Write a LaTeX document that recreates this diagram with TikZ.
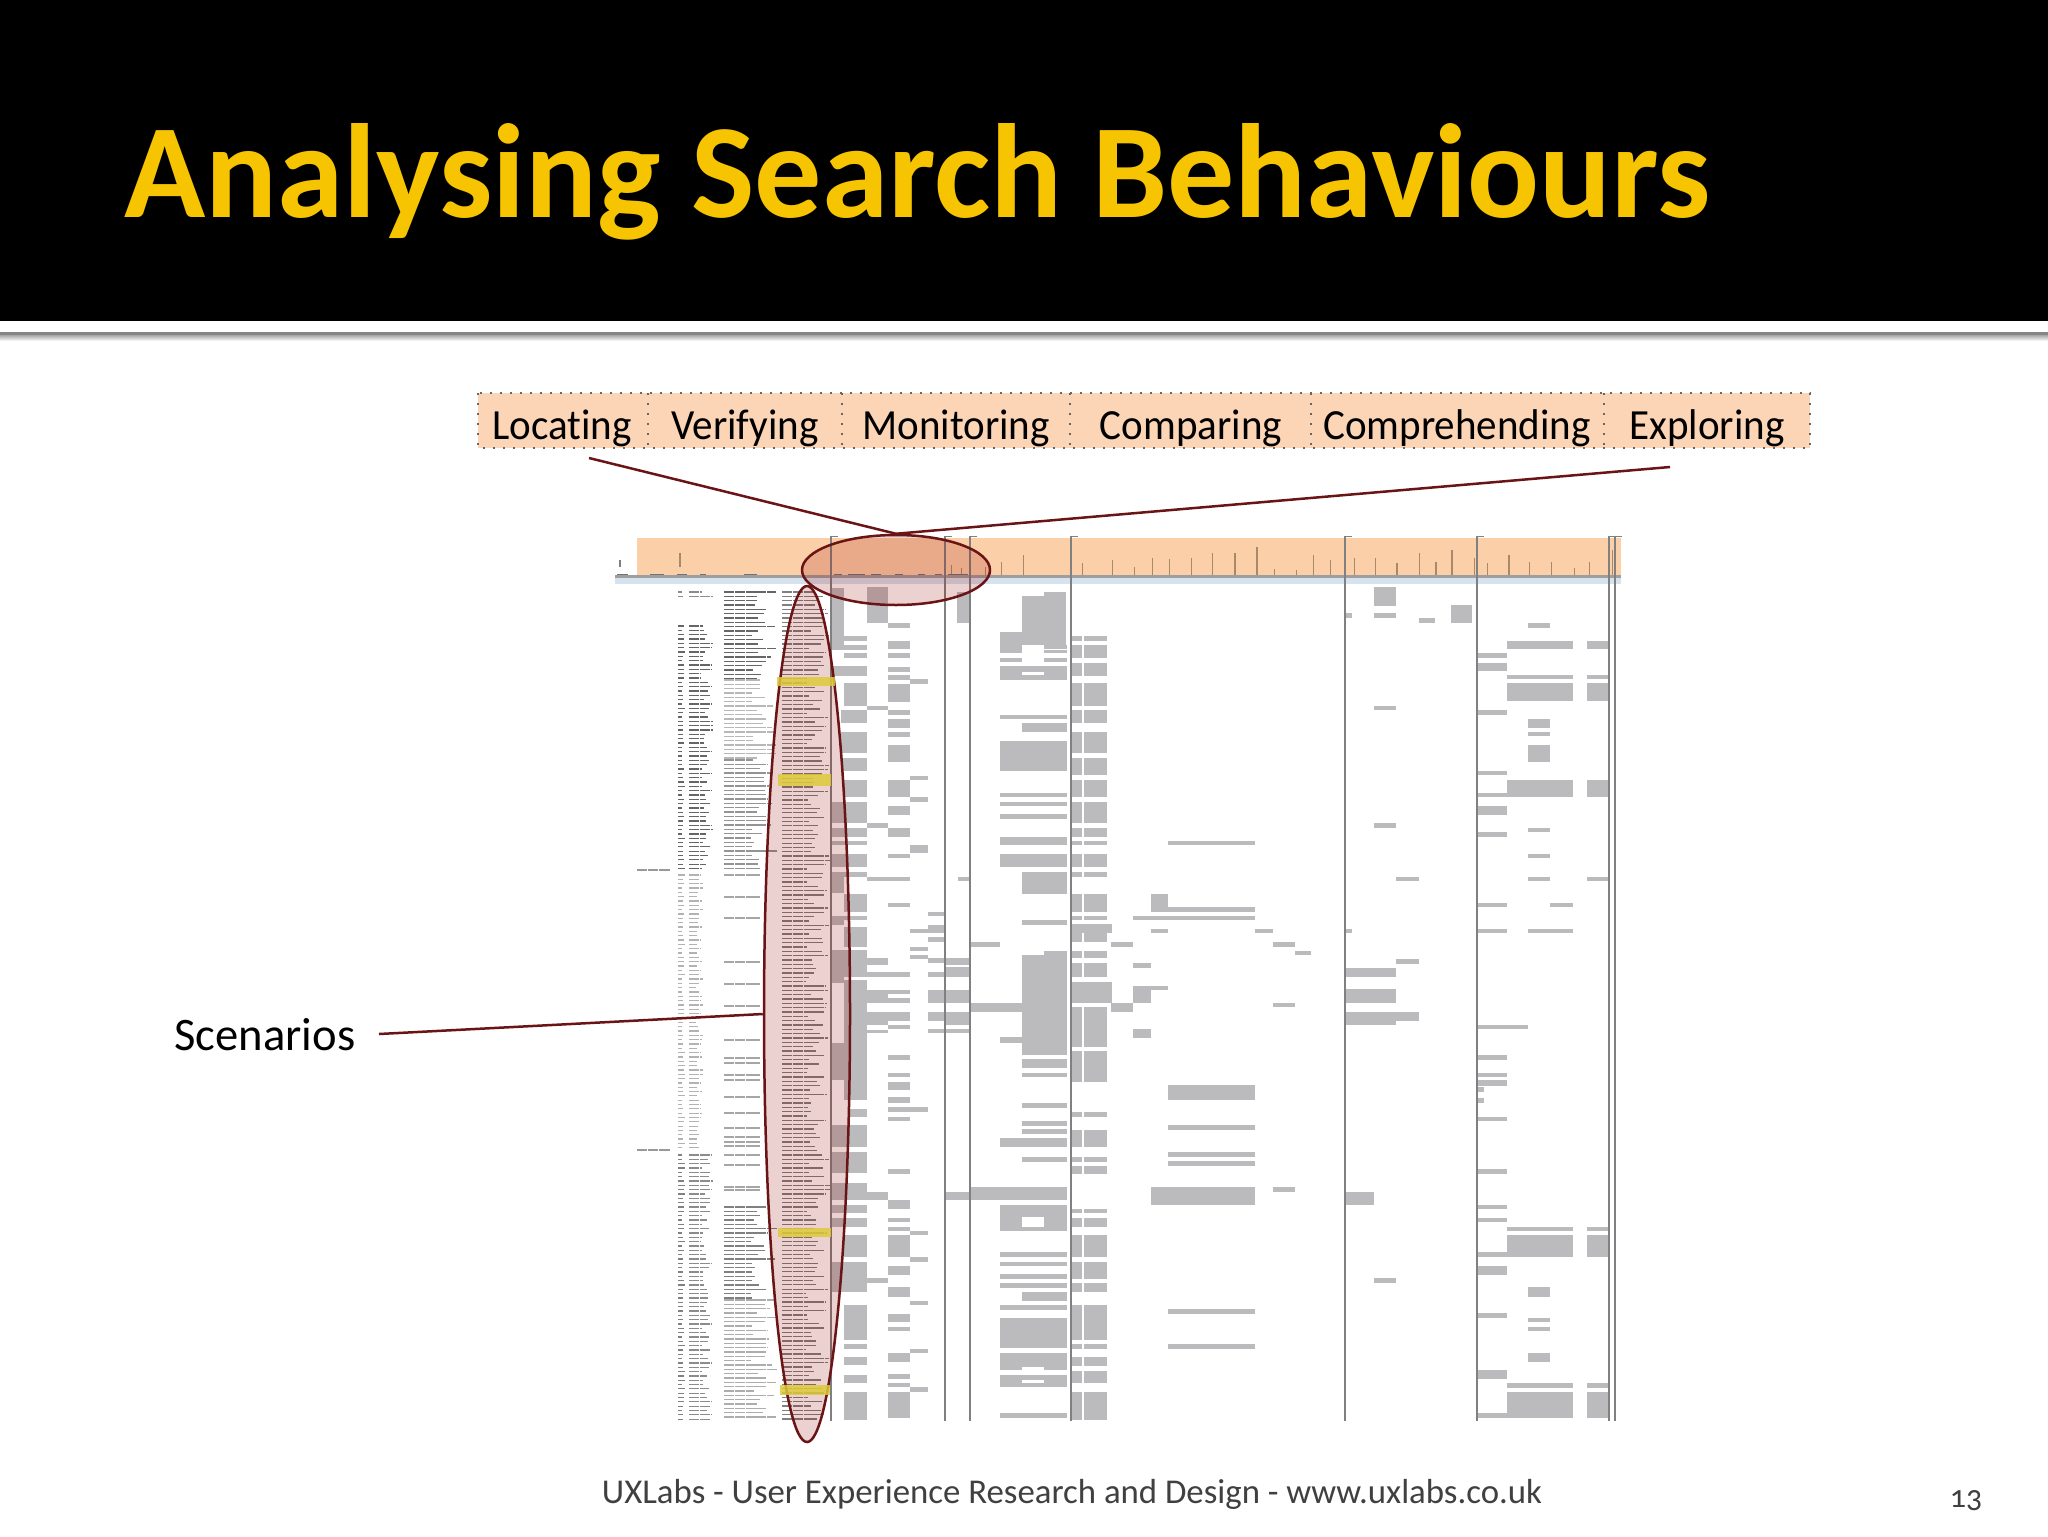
\documentclass[tikz,border=0pt]{standalone}
\usepackage{fontspec}
\setmainfont{Carlito}[Ligatures=NoCommon]
\newfontfamily\oldnum[Numbers=OldStyle]{Carlito}
\usetikzlibrary{shapes.geometric}
\definecolor{gbar}{HTML}{BBBBBD}
\definecolor{gold}{HTML}{F6C400}
\definecolor{wine}{HTML}{6A1416}
\definecolor{strip}{HTML}{FBD5B5}
\definecolor{band}{HTML}{FBD0A8}
\definecolor{tickc}{HTML}{A98A68}
\definecolor{hilite}{HTML}{DCCB3A}
\definecolor{paleblue}{HTML}{D6E2EE}
\tikzset{
  lab/.style={font=\fontsize{21.5pt}{24pt}\selectfont,text=black,inner sep=0pt,anchor=base,xscale=.955,transform shape},
  sep/.style={draw=black!60,line width=1.1pt,dash pattern=on 1.1pt off 3.9pt},
  vline/.style={draw=black!50,line width=0.9pt},
  wineline/.style={draw=wine,line width=1.25pt},
  oval/.style={ellipse,draw=wine,line width=1.25pt,fill=red!60!black,fill opacity=.18,inner sep=0pt},
  txt/.style={draw=black!45,line width=.65pt,dash pattern=on 5pt off .4pt},
  tickm/.style={draw=tickc,line width=.6pt}
}
\newcommand\txtcol[5]{%
  \pgfmathsetmacro\nexty{#3+4.33}%
  \foreach \yy in {#3,\nexty,...,#4}{%
    \pgfmathsetmacro\xe{#1+(#2-#1)*(0.5+0.5*rnd)}%
    \draw[txt,#5] (#1,\yy)--(\xe,\yy);}}
\newcommand\barset[3]{%
  \begin{scope}[shift={(600,#1)},x=0.3349pt,y=-0.16667pt]
  \foreach \xa/\ya/\xb/\yb in {#3}{\fill[gbar] (\xa,\ya) rectangle (\xb,\yb);}
  \end{scope}}
\begin{document}
\begin{tikzpicture}[x=0.5pt,y=-0.5pt]
\useasboundingbox (0,0) rectangle (2048,1536);
\fill[white] (0,0) rectangle (2048,1536);
% header
\fill[black] (0,0) rectangle (2048,321);
\fill[black!48] (0,332) rectangle (2048,335);
\shade[top color=black!35,bottom color=white] (0,335) rectangle (2048,341);
\node[font=\fontsize{67pt}{70pt}\bfseries\selectfont,text=gold,inner sep=0pt,anchor=base west] (title) at (124,217) {Analysing Search Behaviours};
% label strip
\fill[strip] (478,393) rectangle (1810,448);
\draw[sep] (478,393) rectangle (1810,448);
\foreach \x in {648,842,1070,1311,1604}{\draw[sep] (\x,393)--(\x,448);}
\node[lab] (locating) at (562,439.5) {Locating};
\node[lab] (verifying) at (745,439.5) {Verifying};
\node[lab] (monitoring) at (956,439.5) {Monitoring};
\node[lab] (comparing) at (1191,439.5) {Comparing};
\node[lab] (comprehending) at (1457,439.5) {Comprehending};
\node[lab] (exploring) at (1707,439.5) {Exploring};
% chart top band
\fill[band] (637,538) rectangle (1621,575);
\fill[black!38] (615,575) rectangle (1621,578);
\fill[paleblue] (615,578) rectangle (1621,584);
\begin{scope}[shift={(600,530)},x=0.3349pt,y=-0.16667pt]
\foreach \tx/\ty in {600/95,632/75,720/100,765/90,798/112,825/85,850/88,883/85,915/70,948/70,981/50,1007/118,1040/120,1065/75,1090/90,1127/85,1158/85,1190/100,1223/70,1248/95,1272/60,1305/85,1325/100,1357/75,1388/95,1420/95,1455/115,1477/95,1512/60,575/110,525/105,540/115}
  {\draw[tickm] (\tx,\ty)--(\tx,135);}
\draw[draw=tickc,line width=1pt] (120,70)--(120,110);
\draw[draw=black!50,line width=1pt] (30,90)--(30,110);
\foreach \a/\b in {25/42,75/95,115/130,150/158,215/235,350/362,370/395,405/420,440/452,475/485,500/510,520/550}
  {\draw[draw=black!55,line width=.8pt] (\a,133)--(\b,133);}
\end{scope}
% bars
\barset{530}{}{345/175/365/360,365/318/398/333,365/345/398/360,398/170/430/280,430/280/463/293,430/332/463/358,533/185/553/280,663/185/695/305,630/197/663/305,597/305/695/345,597/358/630/360,703/318/720/333,723/318/757/333,703/345/720/358,723/345/757/358,1155/170/1188/228,1112/250/1122/265,1155/250/1188/265,1222/265/1247/280,1270/225/1302/280,1386/280/1419/293,1354/332/1452/358,1474/332/1507/358}
\barset{650}{}{365/-15/398/-2,365/10/398/25,345/48/398/78,365/100/398/168,398/168/430/180,360/180/398/220,360/245/398/310,360/325/398/362,365/390/398/442,345/455/398/520,398/520/430/533,345/533/398/560,345/572/398/585,345/612/398/650,345/665/398/680,398/680/463/693,345/680/365/730,365/733/398/785,345/797/398/810,345/810/365/825,365/830/398/890,345/900/365/1000,365/900/398/950,398/925/430/945,398/965/463/982,365/950/398/980,365/990/398/1180,398/1020/463/1033,398/1033/430/1060,398/1045/463/1058,398/1085/463/1112,398/1112/430/1125,398/1140/430/1150,345/1180/398/1290,365/1290/398/1350,
430/-15/463/-2,430/10/463/25,430/50/463/65,430/75/463/90,430/102/463/155,430/180/463/195,430/207/463/233,430/245/463/260,430/285/463/337,430/390/463/442,430/467/463/495,430/533/463/560,430/612/463/625,430/760/463/772,430/1125/463/1138,430/1215/463/1230,430/1268/463/1282,430/1295/463/1320,430/1342/463/1350,
463/88/490/102,463/377/490/390,463/442/490/456,463/585/490/610,463/836/490/850,463/890/490/902,463/915/490/928,490/785/515/798,490/825/515/850,490/862/515/876,490/925/515/940,490/965/515/982,490/1020/515/1060,490/1085/515/1112,490/1138/515/1150,
515/925/553/945,515/952/553/982,515/1020/553/1060,515/1085/553/1125,515/1138/553/1150,535/680/553/693,553/875/597/890,553/1060/630/1085,597/1162/630/1178,
597/-15/630/-2,663/-15/697/-2,597/0/630/10,663/0/697/10,597/25/630/37,663/25/697/37,597/48/697/65,597/65/630/75,663/65/697/75,597/75/697/90,597/195/697/207,597/272/697/362,597/428/697/442,597/455/697/468,597/493/697/507,597/560/697/585,597/612/697/650,630/220/697/245,630/667/697/732,630/810/697/825,663/902/697/915,630/915/697/1215,630/1228/697/1255,630/1268/697/1282,
703/-2/720/25,723/-2/757/25,703/38/720/78,723/38/757/78,703/100/720/168,723/100/757/168,703/180/720/220,723/180/757/220,703/245/720/310,723/245/757/310,703/325/720/375,723/325/757/375,703/390/720/442,723/390/757/442,703/455/720/520,723/455/757/520,703/533/720/560,723/533/757/560,703/572/720/585,723/572/757/585,703/612/720/650,723/612/757/650,703/665/720/680,723/665/757/680,703/733/720/785,723/733/757/785,703/797/720/810,723/797/757/810,703/822/765/850,703/850/720/875,723/850/757/875,703/902/720/925,723/902/757/925,703/940/720/980,723/940/757/980,703/995/765/1060,703/1072/720/1190,723/1072/757/1190,703/1203/720/1295,723/1203/757/1295,
763/875/795/890,763/1060/795/1085,795/940/822/955,795/1007/848/1020,795/1020/822/1060,795/1138/822/1165,822/732/848/785,822/836/848/850,848/572/978/585,848/770/978/785,795/797/978/810,978/836/1005/850,1005/875/1037/890,1037/902/1062/915,1005/1060/1037/1072,848/1305/978/1350,
1112/953/1188/980,1112/1018/1188/1060,1112/1085/1188/1125,1188/1085/1222/1112,1188/928/1222/942,1155/168/1188/180,1155/520/1188/533,1188/680/1222/693,1112/836/1122/850,
1310/10/1354/25,1310/38/1354/62,1310/180/1354/195,1310/362/1354/375,1310/428/1354/442,1310/467/1354/495,1310/546/1354/560,1310/758/1354/772,1310/836/1354/850,1310/1215/1354/1230,1310/1268/1354/1282,1310/1295/1354/1308,1310/1125/1386/1138,
1354/75/1452/88,1354/100/1452/153,1354/390/1452/442,1386/207/1419/233,1386/245/1419/258,1386/285/1419/337,1386/533/1419/546,1386/612/1419/625,1386/680/1419/693,1386/836/1452/850,1419/758/1452/772,1474/75/1507/88,1474/100/1507/153,1474/390/1507/442,1474/680/1507/693}
\barset{1080}{}{370/30/398/60,370/88/398/110,345/135/398/200,345/215/398/280,345/310/398/360,398/335/430/360,345/375/398/400,345/415/398/440,365/465/398/530,345/545/398/635,398/595/430/610,365/675/398/780,365/792/398/806,365/832/398/855,365/885/398/910,365/935/398/1020,
430/5/463/30,430/55/463/70,430/82/490/97,430/110/463/122,430/268/463/283,430/360/463/386,430/413/463/427,430/440/463/452,430/465/463/530,430/558/463/584,430/622/463/650,430/702/463/727,430/740/463/753,430/820/463/845,430/883/463/897,430/910/463/922,430/935/463/1015,
463/452/490/466,463/530/490/545,463/662/490/676,463/806/490/820,463/922/490/937,515/335/553/360,553/322/697/360,
630/70/697/85,630/122/697/137,630/148/697/162,597/175/697/200,630/230/697/245,597/375/630/452,663/375/697/452,630/375/663/410,630/440/663/452,597/517/697/531,597/545/697/558,597/583/697/597,597/610/697/625,630/636/697/662,597/675/697/690,597/715/697/805,597/820/697/860,597/860/630/870,663/860/697/870,597/885/697/900,597/900/630/910,663/900/697/910,597/910/697/922,597/1000/697/1015,
703/97/720/110,723/97/757/110,703/150/720/200,723/150/757/200,703/230/720/245,723/230/757/245,703/258/720/283,723/258/757/283,703/388/720/400,723/388/757/400,703/415/720/440,723/415/757/440,703/465/720/530,723/465/757/530,703/545/720/597,723/545/757/597,703/610/720/635,723/610/757/635,703/675/720/780,723/675/757/780,703/792/720/806,723/792/757/806,703/832/720/858,723/832/757/858,703/872/720/910,723/872/757/910,703/935/720/1020,723/935/757/1020,
822/322/978/375,848/15/978/60,848/135/978/150,848/215/978/232,848/243/978/258,848/688/978/702,848/792/978/806,1005/322/1037/335,1112/335/1155/375,1155/595/1188/610,
1310/0/1354/18,1310/20/1320/35,1310/55/1320/70,1310/110/1354/122,1310/268/1354/283,1310/375/1354/388,1310/413/1354/427,1310/517/1354/531,1310/558/1354/584,1310/700/1354/715,1310/870/1354/897,1310/1000/1354/1015,
1354/440/1452/453,1354/465/1452/530,1354/908/1452/925,1354/935/1452/1015,1386/622/1419/650,1386/714/1419/727,1386/740/1419/753,1386/820/1419/845,1474/440/1507/453,1474/465/1507/530,1474/908/1507/925,1474/935/1507/1015}
% text columns
\pgfmathsetseed{42}
\txtcol{678}{685}{592}{593}{}
\txtcol{689}{713}{592}{593}{}
\txtcol{678}{685}{626}{870}{draw=black!60}
\txtcol{689}{713}{626}{870}{draw=black!60}
\txtcol{678}{685}{875}{1150}{draw=black!30}
\txtcol{689}{703}{875}{1150}{draw=black!30}
\txtcol{678}{685}{1155}{1421}{draw=black!50}
\txtcol{689}{713}{1155}{1421}{draw=black!45}
\txtcol{724}{777}{592}{680}{draw=black!60}
\txtcol{724}{777}{680}{760}{draw=black!28}
\txtcol{724}{777}{760}{870}{draw=black!42}
\foreach \yy in {875,897,918,962,984,1006,1040,1058,1063,1075,1080,1097,1113,1128,1137,1142,1146,1155,1165,1187,1190}
  {\draw[txt,draw=black!35] (724,\yy)--(760,\yy);}
\txtcol{724}{777}{1207}{1300}{draw=black!50}
\txtcol{724}{777}{1300}{1421}{draw=black!32}
\txtcol{782}{830}{592}{1421}{draw=black!50}
\draw[txt,draw=black!40,line width=.9pt] (637,870)--(670,870);
\draw[txt,draw=black!40,line width=.9pt] (637,1150)--(670,1150);
% vertical lines
\foreach \x in {831,945,970,1071,1345,1477,1609,1615}{
  \draw[vline] (\x,536)--(\x,1421);
  \draw[vline,line width=.5pt] (\x,536)--(\x+7,536);}
% ovals
\node[oval,minimum width=94pt,minimum height=35pt] (ellA) at (896,570) {};
\node[oval,minimum width=43pt,minimum height=428pt] (ellB) at (807,1014) {};
% highlights
\fill[hilite,fill opacity=.85] (777,677) rectangle (835,686);
\fill[hilite,fill opacity=.85] (778,774) rectangle (831,786);
\fill[hilite,fill opacity=.85] (778,1228) rectangle (831,1237);
\fill[hilite,fill opacity=.85] (780,1385) rectangle (830,1395);
% connectors
\coordinate (locEnd) at (589,458);
\coordinate (expEnd) at (1670,467);
\coordinate (scEnd) at (379,1034);
\draw[wineline] (locEnd)--(ellA.north);
\draw[wineline] (expEnd)--(ellA.north);
\draw[wineline] (scEnd)--(ellB.west);
\node[font=\fontsize{23.3pt}{26pt}\selectfont,text=black,inner sep=0pt,anchor=base] (scenarios) at (265,1050) {Scenarios};
% footer
\node[font=\fontsize{17.4pt}{20pt}\selectfont,text=black!75,inner sep=0pt,anchor=base] (footer) at (1072,1503) {UXLabs - User Experience Research and Design - www.uxlabs.co.uk};
\node[font=\fontsize{16pt}{18pt}\oldnum,text=black!75,inner sep=0pt,anchor=base] (page) at (1966,1507) {13};
\end{tikzpicture}
\end{document}
